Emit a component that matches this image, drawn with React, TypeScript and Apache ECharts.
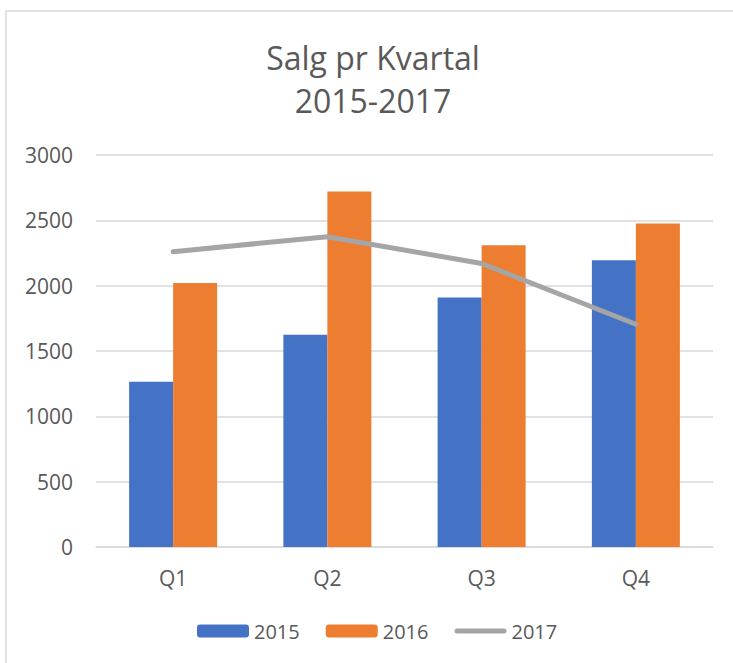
import React, { useEffect, useRef } from "react";
import * as echarts from "echarts";

const categories = ["Q1", "Q2", "Q3", "Q4"];
const sales2015 = [1265, 1625, 1910, 2195];
const sales2016 = [2020, 2720, 2310, 2475];
const sales2017 = [2260, 2375, 2170, 1705];
const titleLines = ["Salg pr Kvartal", "2015-2017"];

const FONT = "'Open Sans', 'Noto Sans', sans-serif";
const TXT = "#595959";
const GRID = "#D9D9D9";
const LINE_ICON =
  "path://M0,0M2.5,4H49.5A2.5,2.5,0,0,1,49.5,9H2.5A2.5,2.5,0,0,1,2.5,4ZM52,13";

export default function App() {
  const ref = useRef<HTMLDivElement>(null);
  useEffect(() => {
    if (!ref.current) return;
    const chart = echarts.init(ref.current, undefined, { renderer: "svg" });
    chart.setOption({
      animation: false,
      backgroundColor: "#ffffff",
      textStyle: { fontFamily: FONT },
      graphic: [
        {
          type: "rect",
          shape: { x: 6, y: 11, width: 800, height: 760 },
          style: { fill: "none", stroke: GRID, lineWidth: 1.5 },
          silent: true,
          z: -10,
        },
        {
          type: "text",
          x: 373,
          y: 57,
          style: {
            text: titleLines[0],
            align: "center",
            verticalAlign: "middle",
            fontSize: 32,
            fontFamily: FONT,
            fill: TXT,
          },
        },
        {
          type: "text",
          x: 373,
          y: 100,
          style: {
            text: titleLines[1],
            align: "center",
            verticalAlign: "middle",
            fontSize: 32,
            fontFamily: FONT,
            fill: TXT,
          },
        },
      ],
      grid: { left: 96, right: 20, top: 155, bottom: 116 },
      legend: {
        left: 197,
        top: 621,
        padding: 0,
        itemWidth: 52,
        itemHeight: 13,
        itemGap: 26,
        textStyle: { color: TXT, fontSize: 20, fontFamily: FONT },
        data: [
          { name: "2015" },
          { name: "2016" },
          {
            name: "2017",
            icon: LINE_ICON,
            itemStyle: { color: "#A5A5A5", borderWidth: 0 },
          },
        ],
      },
      xAxis: {
        type: "category",
        data: categories,
        axisLine: { show: true, lineStyle: { color: GRID, width: 1.5 } },
        axisTick: { show: false },
        axisLabel: { color: TXT, fontSize: 21, fontFamily: FONT, margin: 20 },
      },
      yAxis: {
        type: "value",
        min: 0,
        max: 3000,
        interval: 500,
        axisLine: { show: false },
        axisTick: { show: false },
        splitLine: { lineStyle: { color: GRID, width: 1.5 } },
        axisLabel: {
          color: TXT,
          fontSize: 21,
          fontFamily: FONT,
          margin: 23,
          formatter: (v: number) => String(v),
        },
      },
      series: [
        {
          name: "2015",
          type: "bar",
          data: sales2015,
          barWidth: 44,
          barGap: "0%",
          itemStyle: { color: "#4472C4" },
        },
        {
          name: "2016",
          type: "bar",
          data: sales2016,
          barWidth: 44,
          barGap: "0%",
          itemStyle: { color: "#ED7D31" },
        },
        {
          name: "2017",
          type: "line",
          data: sales2017,
          symbol: "none",
          showSymbol: false,
          itemStyle: { color: "#A5A5A5" },
          lineStyle: { color: "#A5A5A5", width: 5, cap: "round", join: "round" },
          z: 5,
        },
      ],
    });
    return () => chart.dispose();
  }, []);
  return (
    <div
      ref={ref}
      style={{ position: "fixed", left: 0, top: 0, width: 733, height: 663 }}
    />
  );
}
